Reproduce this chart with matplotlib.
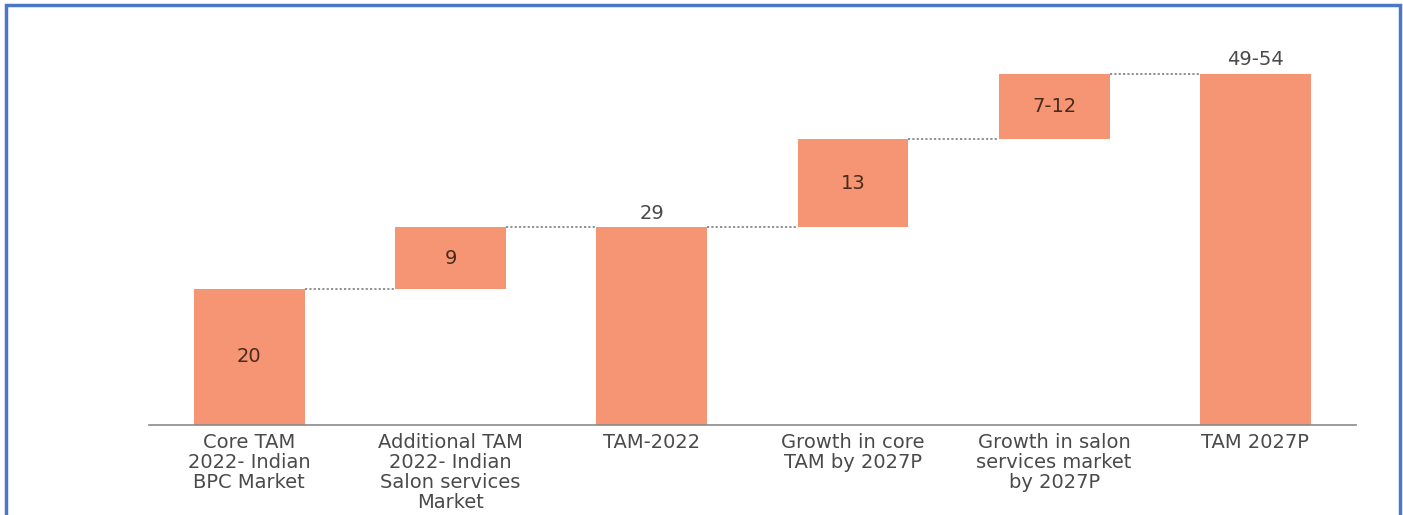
import matplotlib.pyplot as plt
from matplotlib.patches import Rectangle

plt.rcParams['font.family'] = ['DejaVu Sans']

# waterfall steps (USD bn); ranges kept as low / high, bars drawn at midpoint
categories = ['Core TAM\n2022- Indian\nBPC Market',
              'Additional TAM\n2022- Indian\nSalon services\nMarket',
              'TAM-2022',
              'Growth in core\nTAM by 2027P',
              'Growth in salon\nservices market\nby 2027P',
              'TAM 2027P']
low = [20, 9, 29, 13, 7, 49]
high = [20, 9, 29, 13, 12, 54]
is_total = [False, False, True, False, False, True]

bar_color = '#F59573'
text_color = '#4a4a4a'

fig = plt.figure(figsize=(14.03, 5.15), dpi=100)
ax = fig.add_axes([0.106, 0.1748, 0.8605, 0.7475])

mid = [(lo + hi) / 2 for lo, hi in zip(low, high)]
labels = [str(lo) if lo == hi else '%d-%d' % (lo, hi) for lo, hi in zip(low, high)]

width = 0.55
running = 0
tops = []
for i, v in enumerate(mid):
	if is_total[i]:
		bottom = 0
		running = v
	else:
		bottom = running
		running += v
	top = bottom + v
	tops.append(top)
	ax.bar(i, v, bottom=bottom, width=width, color=bar_color, zorder=2)
	if is_total[i]:
		ax.text(i, top + 0.7, labels[i], ha='center', va='bottom',
				fontsize=14, color=text_color)
	else:
		ax.text(i, bottom + v / 2, labels[i], ha='center', va='center',
				fontsize=14, color='#4a2a1e')

# dotted connectors between consecutive bar tops
for i in range(len(mid) - 1):
	ax.plot([i + width / 2, i + 1 - width / 2], [tops[i], tops[i]],
			linestyle=(0, (1.2, 1.2)), color='#888888', linewidth=1.3, zorder=1)

ax.set_xlim(-0.5, 5.5)
ax.set_ylim(0, 56.5)
ax.set_xticks(range(len(categories)))
ax.set_xticklabels(categories, fontsize=14, color=text_color, linespacing=1.05)
ax.tick_params(axis='x', length=0, pad=6)
ax.set_yticks([])
for s in ['top', 'right', 'left']:
	ax.spines[s].set_visible(False)
ax.spines['bottom'].set_color('#8a8a8a')
ax.spines['bottom'].set_linewidth(1.2)

# blue frame round the figure (open at the bottom)
fig.patches.append(Rectangle((6 / 1403, -0.1), 1394 / 1403, 1.1 - 5 / 515,
							 transform=fig.transFigure, fill=False,
							 edgecolor='#4A78C6', linewidth=2.5))

fig.savefig('out.png', dpi=100)
